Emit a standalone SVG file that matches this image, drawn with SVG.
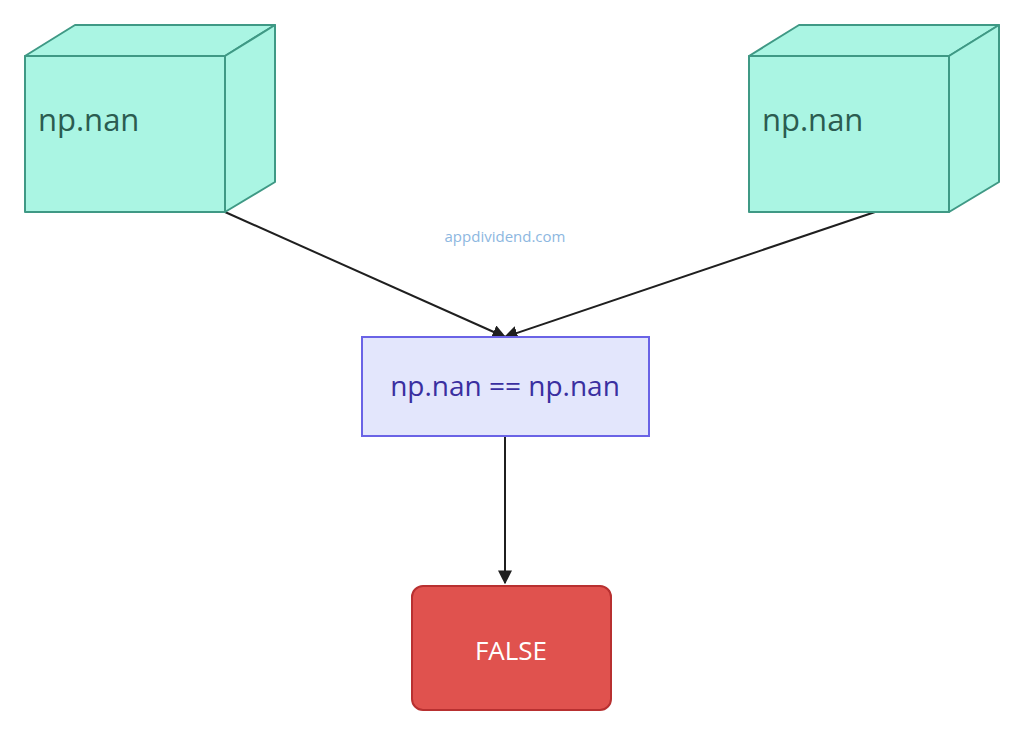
<svg xmlns="http://www.w3.org/2000/svg" width="1024" height="736" viewBox="0 0 1024 736">
<style>
.cube{fill:#aaf5e3;stroke:#3f9985;stroke-width:2;stroke-linejoin:round}
.ct{font-family:"Open Sans",sans-serif;font-size:31px;fill:#2b5c50}
.e{fill:none;stroke:#1f1f1f;stroke-width:2}
</style>
<defs><marker id="a" viewBox="0 0 10 10" refX="9" refY="5" markerWidth="8" markerHeight="8" markerUnits="userSpaceOnUse" orient="auto"><path d="M0,0L10,5L0,10z" fill="#1f1f1f"/></marker>
<marker id="b" viewBox="0 0 10 10" refX="9" refY="5" markerWidth="14" markerHeight="14" markerUnits="userSpaceOnUse" orient="auto"><path d="M0,0L10,5L0,10z" fill="#1f1f1f"/></marker></defs>
<rect width="1024" height="736" fill="#fff"/>
<g id="edges">
<path class="e" d="M225,212L505,337" marker-end="url(#b)"/>
<path class="e" d="M875,212L505,337" marker-end="url(#b)"/>
<path class="e" d="M505,436L505,583" marker-end="url(#b)"/>
</g>
<g id="n1">
<path class="cube" d="M25,56L75,25L275,25L225,56Z"/>
<path class="cube" d="M225,56L275,25L275,182L225,212Z"/>
<rect class="cube" x="25" y="56" width="200" height="156"/>
<text class="ct" x="38" y="131">np.nan</text>
</g>
<g id="n2">
<path class="cube" d="M749,56L799,25L999,25L949,56Z"/>
<path class="cube" d="M949,56L999,25L999,182L949,212Z"/>
<rect class="cube" x="749" y="56" width="200" height="156"/>
<text class="ct" x="762" y="131">np.nan</text>
</g>
<text x="505" y="242" text-anchor="middle" font-family="Open Sans,sans-serif" font-size="15" fill="#8db7df">appdividend.com</text>
<g id="n3">
<rect x="362" y="337" width="287" height="99" fill="#e3e6fc" stroke="#6a63e6" stroke-width="2"/>
<text x="505" y="396" text-anchor="middle" font-family="Open Sans,sans-serif" font-size="28" fill="#3a2fa0">np.nan == np.nan</text>
</g>
<g id="n4">
<rect x="412" y="586" width="199" height="124" rx="11" fill="#e0524e" stroke="#b83030" stroke-width="2"/>
<text x="511" y="660" text-anchor="middle" font-family="Open Sans,sans-serif" font-size="26" fill="#fff">FALSE</text>
</g>
</svg>
